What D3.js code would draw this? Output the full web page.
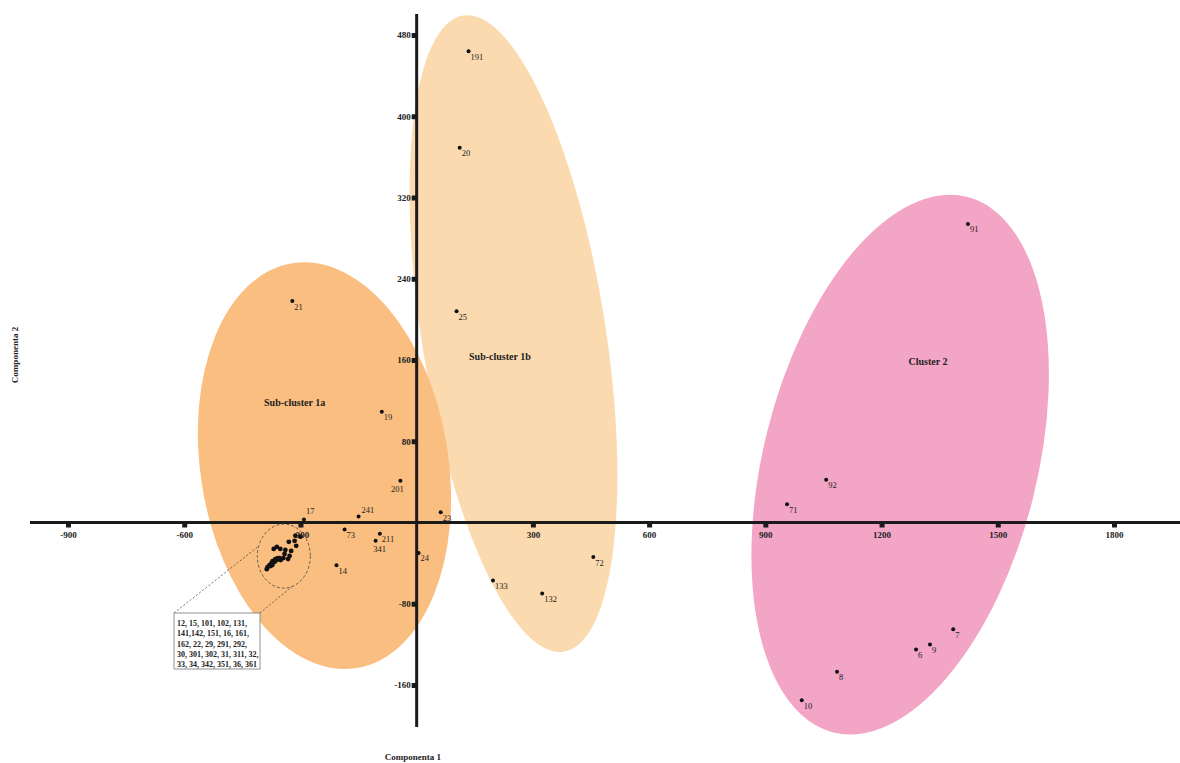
<!DOCTYPE html>
<html>
<head>
<meta charset="utf-8">
<script src="https://cdn.jsdelivr.net/npm/d3@7"></script>
<style>
  body { margin: 0; background: #fff; }
  text { font-family: "Liberation Serif", "Times New Roman", serif; fill: #222; }
  .tick-lbl { font-size: 9px; font-weight: bold; }
  .pt-lbl { font-size: 8.5px; }
  .cl-lbl { font-size: 10px; font-weight: bold; }
  .ax-title { font-size: 9px; font-weight: bold; }
  .box-lbl { font-size: 8px; font-weight: bold; }
</style>
</head>
<body>
<div id="viz"></div>
<script>
var w = 1180, h = 763;

// TICKS
var xTicks = [-900, -600, -300, 300, 600, 900, 1200, 1500, 1800];
var yTicks = [480, 400, 320, 240, 160, 80, -80, -160];

// LABELLED POINTS (Componenta 1, Componenta 2)
var pointLabels = ["191", "20", "25", "21", "19", "201", "23", "24", "17", "241", "73", "211", "341", "14",
                   "72", "133", "132", "91", "92", "71", "7", "9", "6", "8", "10"];
var pointX = [134, 111, 103, -321, -90, -42, 62, 5, -291, -150, -186, -95, -106, -207,
              456, 197, 324, 1423, 1057, 956, 1385, 1325, 1289, 1085, 994];
var pointY = [464, 369, 208, 218, 109, 41, 10, -30, 3, 6, -7, -11, -18, -42,
              -34, -57, -70, 294, 42, 18, -105, -120, -125, -147, -175];

// DENSE GROUP (listed in the box)
var groupLabels = ["12", "15", "101", "102", "131", "141", "142", "151", "16", "161", "162", "22", "29", "291",
                   "292", "30", "301", "302", "31", "311", "32", "33", "34", "342", "351", "36", "361"];
var groupX = [-313, -315, -311, -330, -339, -361, -369, -352, -341, -328, -332, -344, -351, -359,
              -365, -372, -375, -380, -385, -387, -373, -367, -361, -354, -378, -324, -300];
var groupY = [-13, -18, -23, -19, -27, -24, -26, -26, -31, -33, -36, -35, -37, -35,
              -36, -38, -40, -42, -44, -46, -42, -39, -37, -35, -43, -28, -14];

// CLUSTER NAMES (in drawing order)
var clusterNames = ["Sub-cluster 1b", "Sub-cluster 1a", "Cluster 2"];
var clusterCx = [250, -238, 1248];
var clusterCy = [186, 56, 57];
var clusterLblX = [215, -315, 1320];
var clusterLblY = [160, 115, 155];

var hullStyle = [
  {fill: "#FCDAAF", rx: 92, ry: 322, rot: -9},
  {fill: "#F9BE80", rx: 124, ry: 205, rot: -9},
  {fill: "#F3A5C6", rx: 137, ry: 276, rot: 14}
];

// label placement for a few points, default is right-below
var labelPlace = {
  "17": {dx: 2, dy: -5, anchor: "start"},
  "241": {dx: 3, dy: -3, anchor: "start"},
  "201": {dx: -3, dy: 11, anchor: "middle"},
  "341": {dx: 4, dy: 11, anchor: "middle"}
};

var x = d3.scaleLinear().domain([-900, 1800]).range([68, 1114]);
var y = d3.scaleLinear().domain([-160, 480]).range([685, 35]);

var svg = d3.select("#viz").append("svg")
  .attr("width", w)
  .attr("height", h);

// cluster ellipses
var hulls = clusterNames.map(function(n, i) {
  return {name: n, cx: clusterCx[i], cy: clusterCy[i], lx: clusterLblX[i], ly: clusterLblY[i], s: hullStyle[i]};
});

svg.append("g").selectAll("ellipse")
  .data(hulls)
  .enter()
  .append("ellipse")
  .attr("transform", d => "translate(" + x(d.cx) + "," + y(d.cy) + ")rotate(" + d.s.rot + ")")
  .attr("rx", d => d.s.rx)
  .attr("ry", d => d.s.ry)
  .style("fill", d => d.s.fill);

svg.append("g").selectAll("text")
  .data(hulls)
  .enter()
  .append("text")
  .attr("class", "cl-lbl")
  .attr("x", d => x(d.lx))
  .attr("y", d => y(d.ly))
  .attr("text-anchor", "middle")
  .text(d => d.name);

// axes lines
var x0 = x(0), y0 = y(0);
svg.append("line")
  .attr("x1", 30).attr("x2", w)
  .attr("y1", y0).attr("y2", y0)
  .style("stroke", "#1a1a1a").style("stroke-width", 3);
svg.append("line")
  .attr("x1", x0).attr("x2", x0)
  .attr("y1", 14).attr("y2", 727)
  .style("stroke", "#1a1a1a").style("stroke-width", 3);

// plain hyphen for negatives, like the original
var fmt = d => String(d);

var xAxis = svg.append("g")
  .attr("transform", "translate(0," + y0 + ")")
  .call(d3.axisBottom(x).tickValues(xTicks).tickSize(0).tickPadding(9).tickFormat(fmt));
xAxis.select(".domain").remove();
xAxis.selectAll("text").attr("class", "tick-lbl").attr("fill", "#222");
xAxis.attr("font-family", null).attr("font-size", null);
xAxis.selectAll(".tick").append("rect")
  .attr("x", -2.5).attr("y", 0).attr("width", 5).attr("height", 5)
  .style("fill", "#1a1a1a");

var yAxis = svg.append("g")
  .attr("transform", "translate(" + x0 + ",0)")
  .call(d3.axisLeft(y).tickValues(yTicks).tickSize(0).tickPadding(6).tickFormat(fmt));
yAxis.select(".domain").remove();
yAxis.selectAll("text").attr("class", "tick-lbl").attr("fill", "#222");
yAxis.attr("font-family", null).attr("font-size", null);
yAxis.selectAll(".tick").append("rect")
  .attr("x", -5).attr("y", -2.5).attr("width", 5).attr("height", 5)
  .style("fill", "#1a1a1a");

// axis titles
svg.append("text").attr("class", "ax-title")
  .attr("x", 413).attr("y", 760)
  .attr("text-anchor", "middle")
  .text("Componenta 1");
svg.append("text").attr("class", "ax-title")
  .attr("transform", "translate(18,355)rotate(-90)")
  .attr("text-anchor", "middle")
  .text("Componenta 2");

// labelled points
var pts = pointLabels.map((l, i) => ({label: l, x: pointX[i], y: pointY[i]}));

svg.append("g").selectAll("circle")
  .data(pts)
  .enter()
  .append("circle")
  .attr("cx", d => x(d.x))
  .attr("cy", d => y(d.y))
  .attr("r", 2)
  .style("fill", "#111");

svg.append("g").selectAll("text")
  .data(pts)
  .enter()
  .append("text")
  .attr("class", "pt-lbl")
  .attr("x", d => x(d.x) + (labelPlace[d.label] ? labelPlace[d.label].dx : 2))
  .attr("y", d => y(d.y) + (labelPlace[d.label] ? labelPlace[d.label].dy : 8.5))
  .attr("text-anchor", d => labelPlace[d.label] ? labelPlace[d.label].anchor : "start")
  .text(d => d.label);

// dense group
var grp = groupLabels.map((l, i) => ({label: l, x: groupX[i], y: groupY[i]}));

svg.append("g").selectAll("circle")
  .data(grp)
  .enter()
  .append("circle")
  .attr("cx", d => x(d.x))
  .attr("cy", d => y(d.y))
  .attr("r", 2.4)
  .style("fill", "#111");

var gcx = d3.mean(grp, d => x(d.x)) + 3, gcy = d3.mean(grp, d => y(d.y)) + 1;
var grx = 26.5, gry = 32;
svg.append("ellipse")
  .attr("cx", gcx).attr("cy", gcy)
  .attr("rx", grx).attr("ry", gry)
  .style("fill", "none")
  .style("stroke", "#444")
  .style("stroke-width", 0.8)
  .style("stroke-dasharray", "3,2");

// box with the list of the group
var box = {x: 174, y: 613, w: 86, h: 56};
var t1 = 198 * Math.PI / 180, t2 = 72 * Math.PI / 180;
var conn = [
  [box.x, box.y, gcx + grx * Math.cos(t1), gcy + gry * Math.sin(t1)],
  [box.x + box.w, box.y, gcx + grx * Math.cos(t2), gcy + gry * Math.sin(t2)]
];
svg.append("g").selectAll("line")
  .data(conn)
  .enter()
  .append("line")
  .attr("x1", d => d[0]).attr("y1", d => d[1])
  .attr("x2", d => d[2]).attr("y2", d => d[3])
  .style("stroke", "#333")
  .style("stroke-width", 0.7)
  .style("stroke-dasharray", "2,2");

svg.append("rect")
  .attr("x", box.x).attr("y", box.y)
  .attr("width", box.w).attr("height", box.h)
  .style("fill", "#fff")
  .style("stroke", "#777")
  .style("stroke-width", 0.8);

var boxLines = ["12, 15, 101, 102, 131,", "141,142, 151, 16, 161,", "162, 22, 29, 291, 292,",
                "30, 301, 302, 31, 311, 32,", "33, 34, 342, 351, 36, 361"];
svg.append("g").selectAll("text")
  .data(boxLines)
  .enter()
  .append("text")
  .attr("class", "box-lbl")
  .attr("x", box.x + 3)
  .attr("y", (d, i) => box.y + 13 + i * 10.3)
  .text(d => d);
</script>
</body>
</html>
